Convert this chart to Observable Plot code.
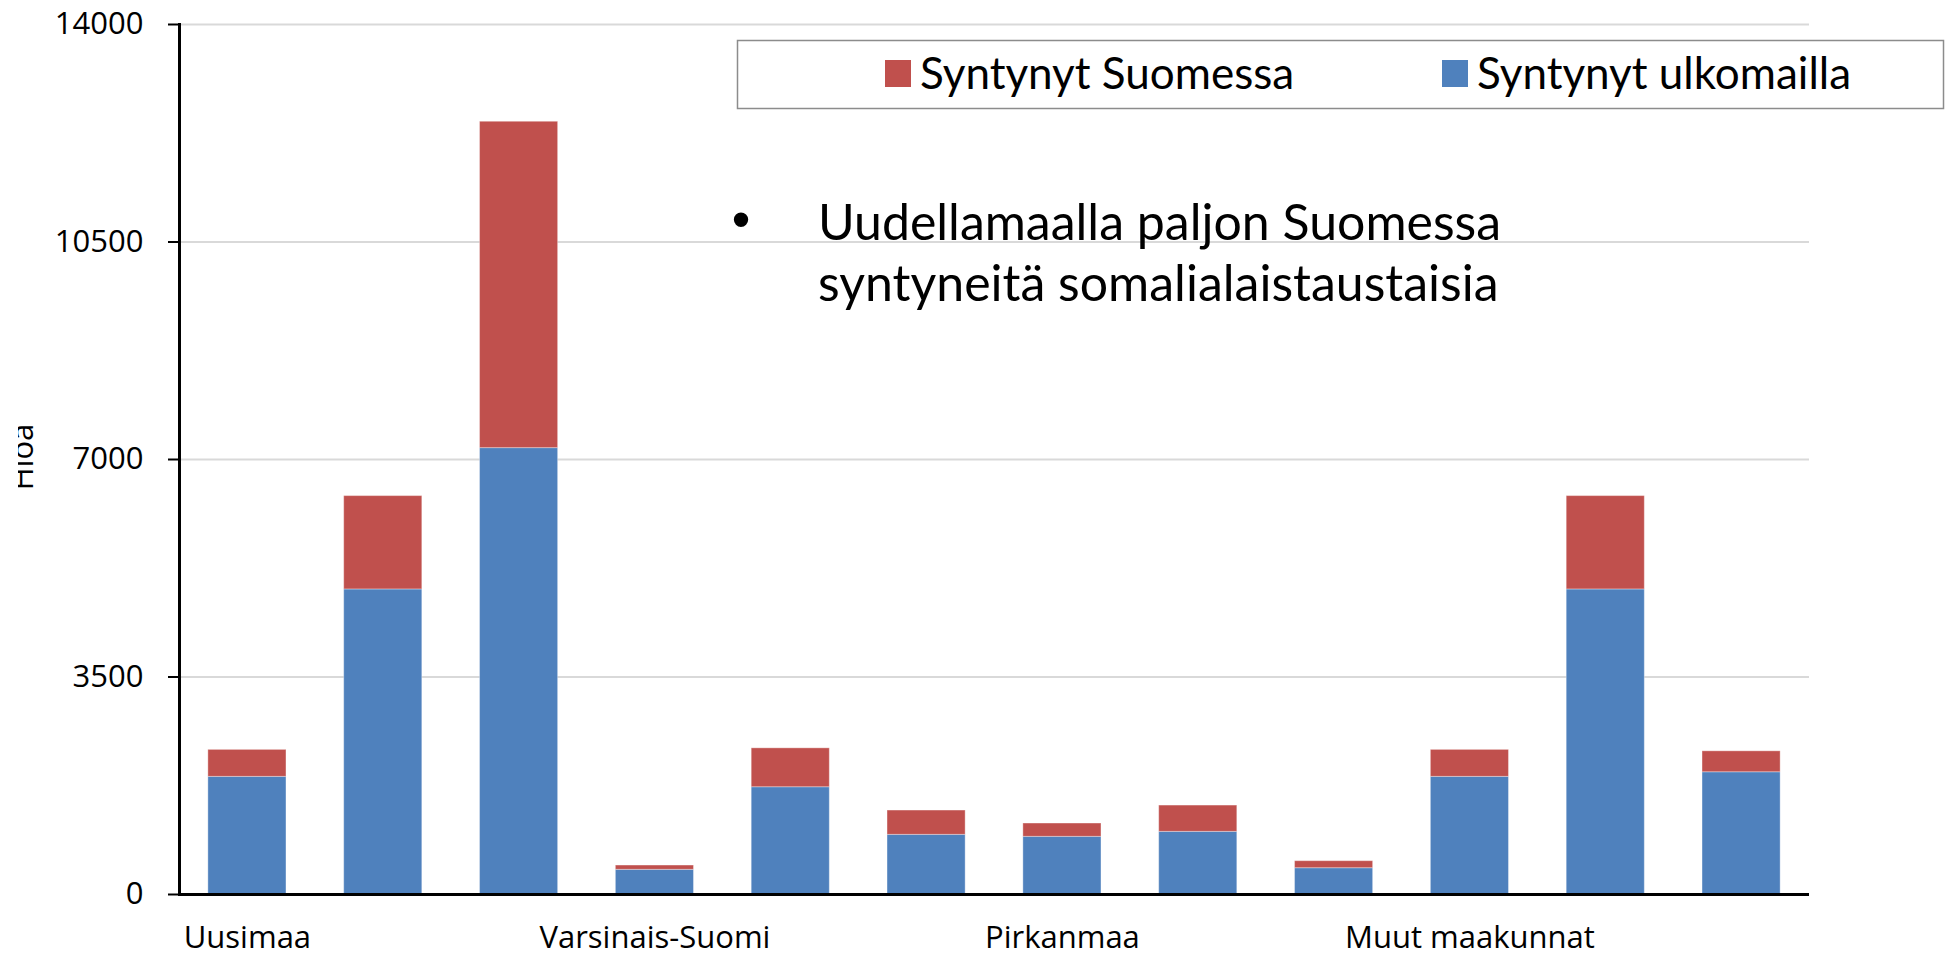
<!DOCTYPE html>
<html>
<head>
<meta charset="utf-8">
<script src="https://cdn.jsdelivr.net/npm/d3@7"></script>
<script src="https://cdn.jsdelivr.net/npm/@observablehq/plot@0.6"></script>
<style>
  html, body { margin: 0; padding: 0; background: #fff; }
  #wrap { position: relative; width: 1946px; height: 961px; overflow: hidden; }
  #wrap > svg.plot { position: absolute; left: 0; top: 0; }
  #overlay { position: absolute; left: 0; top: 0; pointer-events: none; }
</style>
</head>
<body>
<div id="wrap"></div>
<script>
// ---- data ----
const bars = [1, 2, 3, 4, 5, 6, 7, 8, 9, 10, 11, 12];
const xLabels = ["Uusimaa", "", "", "Varsinais-Suomi", "", "", "Pirkanmaa", "", "", "Muut maakunnat", "", ""];
const bornAbroad = [1893, 4909, 7183, 397, 1726, 960, 928, 1008, 423, 1893, 4909, 1967];
const bornFinland = [434, 1502, 5252, 69, 626, 391, 214, 423, 113, 434, 1502, 337];
const seriesNames = ["Syntynyt ulkomailla", "Syntynyt Suomessa"];
const seriesColors = ["#4F81BD", "#C0504D"];
const legendOrder = ["Syntynyt Suomessa", "Syntynyt ulkomailla"];
const yTicks = [0, 3500, 7000, 10500, 14000];
const yLabel = "Hlöä";
const noteLines = ["Uudellamaalla paljon Suomessa", "syntyneitä somalialaistaustaisia"];

const rows = bars.flatMap((b, i) => [
  {bar: b, series: seriesNames[0], value: bornAbroad[i]},
  {bar: b, series: seriesNames[1], value: bornFinland[i]}
]);

const W = 1946, H = 961;
const plot = Plot.plot({
  width: W,
  height: H,
  marginLeft: 179,
  marginRight: 137,
  marginTop: 24,
  marginBottom: 67,
  style: {fontFamily: "'Open Sans', sans-serif", fontSize: "31px", color: "#000", background: "transparent"},
  x: {type: "band", domain: bars, paddingInner: 0.425, paddingOuter: 0.2125, align: 0.5, round: false},
  y: {domain: [0, 14000]},
  color: {domain: seriesNames, range: seriesColors},
  marks: [
    Plot.gridY(yTicks, {stroke: "#d9d9d9", strokeOpacity: 1, strokeWidth: 2}),
    Plot.barY(rows, {x: "bar", y: "value", fill: "series", stroke: "#ffffff", strokeOpacity: 0.35, strokeWidth: 1}),
    Plot.axisY({ticks: yTicks, tickSize: 11, tickPadding: 25, tickFormat: d => String(d),
      fontSize: 31, stroke: "#000", strokeWidth: 2, label: null}),
    Plot.axisX({tickSize: 0, tickPadding: 31, tickFormat: d => xLabels[bars.indexOf(d)],
      fontSize: 31, label: null}),
    Plot.frame({anchor: "left", stroke: "#000", strokeWidth: 3}),
    Plot.ruleY([0], {stroke: "#000", strokeWidth: 3})
  ]
});
plot.classList.add("plot");
const wrap = document.getElementById("wrap");
wrap.appendChild(plot);

// ---- overlay: legend, note, y label ----
const ns = "http://www.w3.org/2000/svg";
const ov = d3.select(wrap).append("svg")
  .attr("id", "overlay")
  .attr("xmlns", ns)
  .attr("width", W)
  .attr("height", H);

// clipped rotated y-axis label
ov.append("clipPath").attr("id", "ylabclip")
  .append("rect").attr("x", 18).attr("y", 380).attr("width", 30).attr("height", 160);
ov.append("g").attr("clip-path", "url(#ylabclip)")
  .append("text")
  .attr("transform", "translate(33,457) rotate(-90)")
  .attr("text-anchor", "middle")
  .attr("font-family", "'Open Sans', sans-serif")
  .attr("font-size", 31)
  .attr("fill", "#000")
  .text(yLabel);

// legend box
const lg = ov.append("g");
lg.append("rect").attr("x", 737.5).attr("y", 40.5).attr("width", 1206).attr("height", 68)
  .attr("fill", "#fff").attr("stroke", "#8c8c8c").attr("stroke-width", 1.5);
const legendX = [885, 1442];
legendOrder.forEach((name, i) => {
  const c = seriesColors[seriesNames.indexOf(name)];
  lg.append("rect").attr("x", legendX[i]).attr("y", 60).attr("width", 26).attr("height", 27).attr("fill", c);
  lg.append("text").attr("x", legendX[i] + 35).attr("y", 89)
    .attr("font-family", "Lato, sans-serif").attr("font-size", 44).attr("fill", "#000")
    .text(name);
});

// bullet note
const nt = ov.append("g");
nt.append("text").attr("x", 741).attr("y", 238).attr("text-anchor", "middle")
  .attr("font-family", "'Liberation Sans', Arial, sans-serif").attr("font-size", 53).attr("fill", "#000")
  .text("•");
noteLines.forEach((line, i) => {
  nt.append("text").attr("x", 818).attr("y", 240 + i * 61)
    .attr("font-family", "Lato, sans-serif").attr("font-size", 50).attr("fill", "#000")
    .text(line);
});
</script>
</body>
</html>
